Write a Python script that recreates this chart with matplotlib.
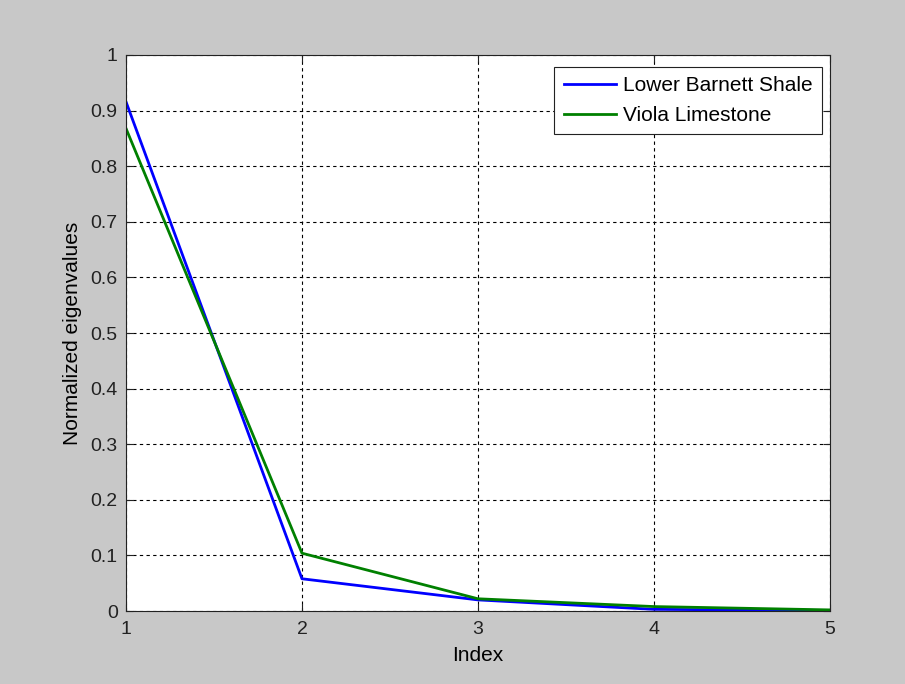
import matplotlib
matplotlib.use("Agg")
import matplotlib.pyplot as plt
import numpy as np

# data
index = [1, 2, 3, 4, 5]
barnett = [0.916, 0.058, 0.020, 0.003, 0.001]
viola = [0.868, 0.104, 0.022, 0.008, 0.002]
series_names = ["Lower Barnett Shale", "Viola Limestone"]
ytick_labels = ['0', '0.1', '0.2', '0.3', '0.4', '0.5', '0.6', '0.7',
                '0.8', '0.9', '1']

plt.rcParams['font.family'] = ['Liberation Sans', 'DejaVu Sans']

fig = plt.figure(figsize=(9.05, 6.84), dpi=100, facecolor='#c8c8c8')
ax = fig.add_axes([0.1392, 0.1067, 0.7779, 0.8129])

ax.plot(index, barnett, color='#0000ff', linewidth=2, label=series_names[0])
ax.plot(index, viola, color='#008000', linewidth=2, label=series_names[1])

ax.set_xlim(1, 5)
ax.set_ylim(0, 1)
ax.set_xticks(index)
ax.set_yticks(np.linspace(0, 1, 11))
ax.set_yticklabels(ytick_labels)
ax.grid(True, color='black', linestyle=(0, (3, 3)), linewidth=0.8)
ax.tick_params(direction='in', top=True, right=True, labelsize=14,
               length=5, colors='#222222')
ax.tick_params(axis='x', pad=7)
ax.tick_params(axis='y', pad=6)
for sp in ax.spines.values():
    sp.set_color('#222222')

ax.set_xlabel("Index", fontsize=15, labelpad=6)
ax.set_ylabel("Normalized eigenvalues", fontsize=15, labelpad=6)

leg = ax.legend(loc='upper right', bbox_to_anchor=(0.9886, 0.9784),
                borderaxespad=0, fontsize=15, fancybox=False,
                framealpha=1, edgecolor='#222222', handlelength=2.5,
                borderpad=0.45, labelspacing=0.5, handletextpad=0.35)
leg.get_frame().set_linewidth(0.8)

fig.savefig("out.png", dpi=100, facecolor=fig.get_facecolor())
